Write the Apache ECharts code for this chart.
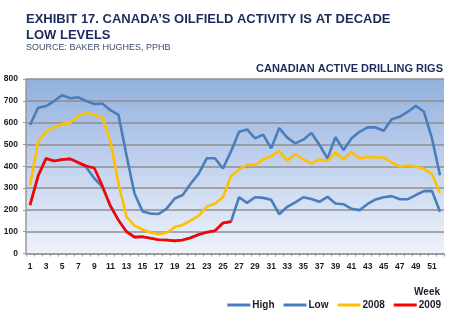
<!DOCTYPE html>
<html>
<head>
<meta charset="utf-8">
<script src="https://cdn.jsdelivr.net/npm/echarts@6/dist/echarts.min.js"></script>
<style>
html,body{margin:0;padding:0;background:#fff;}
#c{width:450px;height:326px;}
</style>
</head>
<body>
<div id="c"></div>
<script>
var weeks = [];
for (var i = 1; i <= 52; i++) weeks.push(String(i));
var yTicks = [0, 100, 200, 300, 400, 500, 600, 700, 800];

var high = [589, 668, 676, 699, 726, 712, 716, 699, 685, 688, 657, 636, 450, 275, 193, 183, 181, 206, 252, 268,
  321, 367, 437, 437, 390, 468, 558, 569, 528, 545, 482, 575, 531, 505, 522, 553, 499, 435, 533, 474,
  528, 558, 578, 578, 563, 615, 627, 650, 677, 650, 528, 359];
var low = [222, 355, 436, 424, 431, 434, 417, 395, 344, 305, 218, 153, 100, 75, 77, 70, 63, 62, 58, 62,
  72, 87, 97, 104, 140, 146, 258, 232, 258, 255, 246, 180, 214, 234, 258, 250, 237, 260, 229, 226,
  205, 199, 227, 248, 258, 263, 249, 249, 268, 286, 287, 191];
var y2008 = [313, 512, 561, 578, 593, 599, 631, 647, 635, 625, 515, 321, 168, 128, 110, 96, 88, 95, 121, 131,
  152, 174, 216, 228, 258, 355, 385, 408, 405, 431, 446, 471, 425, 456, 431, 413, 431, 425, 462, 431,
  466, 436, 443, 440, 440, 418, 398, 403, 398, 388, 364, 277];
var y2009 = [222, 355, 436, 424, 431, 434, 417, 401, 392, 310, 218, 153, 100, 75, 77, 70, 63, 62, 58, 62,
  72, 87, 97, 104, 140, 146];

var seriesNames = ['High', 'Low', '2008', '2009'];
var seriesColors = ['#4a7ebb', '#4a7ebb', '#ffc000', '#ff0000'];
var seriesData = [high, low, y2008, y2009];

var FONT = 'Liberation Sans, Arial, sans-serif';
var NAVY = '#1b2c5c';

var chart = echarts.init(document.getElementById('c'), null, {renderer: 'canvas'});
var series = seriesNames.map(function (n, k) {
  return {
    name: n,
    type: 'line',
    data: seriesData[k],
    symbol: 'none',
    smooth: false,
    z: 2 + k,
    lineStyle: {width: 2.6, color: seriesColors[k]},
    itemStyle: {color: seriesColors[k]}
  };
});

chart.setOption({
  animation: false,
  textStyle: {fontFamily: FONT},
  title: [
    {
      text: 'EXHIBIT 17. CANADA\u2019S OILFIELD ACTIVITY IS AT DECADE\nLOW LEVELS',
      left: 21, top: 6,
      textStyle: {fontFamily: FONT, fontWeight: 'bold', fontSize: 13, lineHeight: 16, color: NAVY},
      subtext: 'SOURCE: BAKER HUGHES, PPHB',
      subtextStyle: {fontFamily: FONT, fontSize: 9, color: '#3e4b6e'},
      itemGap: 0
    },
    {
      text: 'CANADIAN ACTIVE DRILLING RIGS',
      right: 2, top: 58,
      textStyle: {fontFamily: FONT, fontWeight: 'bold', fontSize: 11, color: NAVY}
    },
    {
      text: 'Week',
      right: 5, top: 282,
      textStyle: {fontFamily: FONT, fontWeight: 'bold', fontSize: 10, color: '#1a1a2a'}
    }
  ],
  legend: {
    data: seriesNames,
    right: 4, top: 295,
    itemWidth: 23, itemHeight: 3, itemGap: 9,
    icon: 'rect',
    textStyle: {fontFamily: FONT, fontWeight: 'bold', fontSize: 10, color: '#1a1a2a', padding: [0, 0, 0, -3]}
  },
  grid: {
    left: 26, right: 6, top: 79, bottom: 72.5,
    show: true,
    borderWidth: 0,
    backgroundColor: new echarts.graphic.LinearGradient(0, 0, 0, 1, [
      {offset: 0, color: '#92b0de'},
      {offset: 0.5, color: '#c3d3ee'},
      {offset: 1, color: '#eef2fa'}
    ])
  },
  xAxis: {
    type: 'category',
    data: weeks,
    boundaryGap: true,
    axisLine: {lineStyle: {color: '#999', width: 1.5}},
    axisTick: {show: true, interval: 0, length: 3, lineStyle: {color: '#999'}},
    axisLabel: {interval: 1, margin: 9, fontFamily: FONT, fontWeight: 'bold', fontSize: 8.5, color: '#1a1a2a'},
    splitLine: {show: false}
  },
  yAxis: {
    type: 'value',
    min: yTicks[0], max: yTicks[yTicks.length - 1], interval: 100,
    axisLine: {show: true, lineStyle: {color: '#999', width: 1.5}},
    axisTick: {show: true, length: 3, lineStyle: {color: '#999'}},
    axisLabel: {margin: 8, fontFamily: FONT, fontWeight: 'bold', fontSize: 8.5, color: '#1a1a2a'},
    splitLine: {show: true, lineStyle: {color: '#8f8f8f', width: 1.5}}
  },
  series: series
});
</script>
</body>
</html>
